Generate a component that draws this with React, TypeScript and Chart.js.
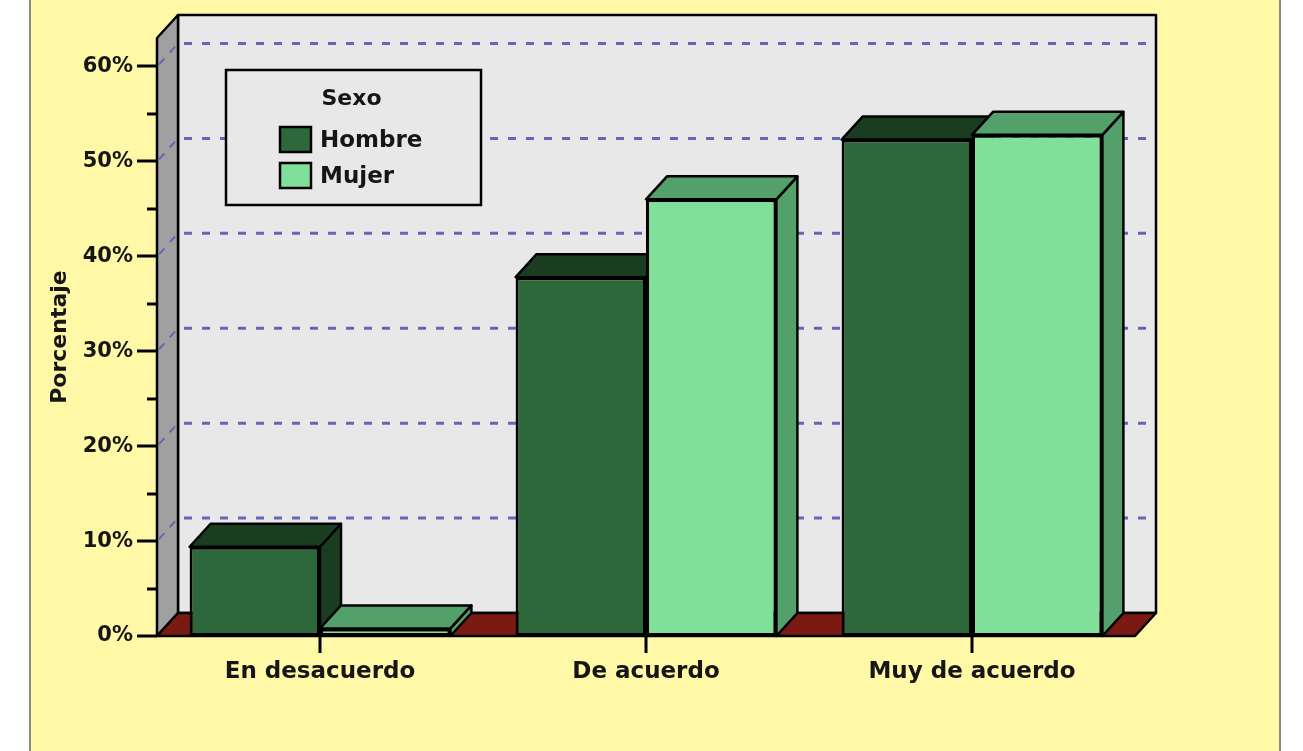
import React, { useEffect, useRef } from 'react';
import { Chart, registerables } from 'chart.js';

Chart.register(...registerables);

// ---- data ----
const CATEGORIES = ['En desacuerdo', 'De acuerdo', 'Muy de acuerdo'];
const HOMBRE = [9.4, 37.8, 52.3];
const MUJER = [0.8, 46.0, 52.8];
const SERIES_LABELS = ['Hombre', 'Mujer'];
const Y_MAJOR_TICKS = [0, 10, 20, 30, 40, 50, 60];
const Y_MINOR_TICKS = [5, 15, 25, 35, 45, 55];
const LEGEND_TITLE = 'Sexo';
const Y_TITLE = 'Porcentaje';

// ---- styles ----
const FONT = "'DejaVu Sans', 'Liberation Sans', Arial, sans-serif";
const TEXT = '#161616';
const FRONT_COLORS = ['#2D683B', '#80DF98'];
const SIDE_COLORS = ['#1A3D22', '#53A06A'];
const WALL = '#E8E8E8';
const SIDE_WALL = '#A0A0A0';
const FLOOR = '#7A1A12';
const GRID = '#6666B4';
const DX = 21;
const DY = 23;

function poly(ctx: CanvasRenderingContext2D, pts: number[][], fill: string) {
  ctx.beginPath();
  ctx.moveTo(pts[0][0], pts[0][1]);
  for (let i = 1; i < pts.length; i++) ctx.lineTo(pts[i][0], pts[i][1]);
  ctx.closePath();
  ctx.fillStyle = fill;
  ctx.fill();
  ctx.stroke();
}

const threeD = {
  id: 'threeD',
  beforeDatasetsDraw(chart: any) {
    const { ctx, chartArea, scales } = chart;
    const { left, right, top, bottom } = chartArea;
    const y = scales.y;
    ctx.save();
    ctx.lineJoin = 'round';
    ctx.strokeStyle = '#000';
    ctx.lineWidth = 2.5;
    // back wall
    ctx.beginPath();
    ctx.rect(left + DX, top - DY, right - left, bottom - top);
    ctx.fillStyle = WALL;
    ctx.fill();
    ctx.stroke();
    // grid lines on back wall
    ctx.setLineDash([8, 10]);
    ctx.strokeStyle = GRID;
    ctx.lineWidth = 3;
    Y_MAJOR_TICKS.forEach((v) => {
      if (v === 0) return;
      const py = y.getPixelForValue(v);
      ctx.beginPath();
      ctx.moveTo(left + DX + 6, py - DY);
      ctx.lineTo(right + DX - 6, py - DY);
      ctx.stroke();
    });
    ctx.setLineDash([]);
    // left wall
    ctx.strokeStyle = '#000';
    ctx.lineWidth = 2.5;
    poly(ctx, [[left, top], [left + DX, top - DY], [left + DX, bottom - DY], [left, bottom]], SIDE_WALL);
    // dashes on the left wall
    ctx.strokeStyle = GRID;
    ctx.lineWidth = 2;
    ctx.setLineDash([8, 8]);
    Y_MAJOR_TICKS.forEach((v) => {
      if (v === 0) return;
      const py = y.getPixelForValue(v);
      ctx.beginPath();
      ctx.moveTo(left + 2, py - 2);
      ctx.lineTo(left + DX, py - DY);
      ctx.stroke();
    });
    ctx.setLineDash([]);
    // floor
    ctx.strokeStyle = '#000';
    ctx.lineWidth = 2.5;
    poly(ctx, [[left, bottom], [right, bottom], [right + DX, bottom - DY], [left + DX, bottom - DY]], FLOOR);
    // 3D bar sides & tops
    chart.data.datasets.forEach((_ds: any, i: number) => {
      const meta = chart.getDatasetMeta(i);
      meta.data.forEach((bar: any) => {
        const { x, y: by, base, width } = bar.getProps(['x', 'y', 'base', 'width'], true);
        const l = x - width / 2;
        const r = x + width / 2;
        poly(ctx, [[r, by], [r + DX, by - DY], [r + DX, base - DY], [r, base]], SIDE_COLORS[i]);
        poly(ctx, [[l, by], [r, by], [r + DX, by - DY], [l + DX, by - DY]], SIDE_COLORS[i]);
      });
    });
    ctx.restore();
  },
  afterDatasetsDraw(chart: any) {
    const { ctx, chartArea, scales } = chart;
    const { left, top, bottom } = chartArea;
    ctx.save();
    ctx.strokeStyle = '#000';
    ctx.lineWidth = 3;
    // y ticks
    Y_MAJOR_TICKS.forEach((v) => {
      const py = Math.round(scales.y.getPixelForValue(v));
      ctx.beginPath();
      ctx.moveTo(left - 20, py);
      ctx.lineTo(left, py);
      ctx.stroke();
    });
    Y_MINOR_TICKS.forEach((v) => {
      const py = Math.round(scales.y.getPixelForValue(v));
      ctx.beginPath();
      ctx.moveTo(left - 10, py);
      ctx.lineTo(left, py);
      ctx.stroke();
    });
    // x ticks
    CATEGORIES.forEach((_c, i) => {
      const px = Math.round(scales.x.getPixelForValue(i));
      ctx.beginPath();
      ctx.moveTo(px, bottom);
      ctx.lineTo(px, bottom + 17);
      ctx.stroke();
    });
    // legend
    const bx = left + 69;
    const by = top + 32;
    const bw = 255;
    const bh = 135;
    ctx.fillStyle = WALL;
    ctx.lineWidth = 2.5;
    ctx.fillRect(bx, by, bw, bh);
    ctx.strokeRect(bx, by, bw, bh);
    ctx.fillStyle = TEXT;
    ctx.font = `bold 22px ${FONT}`;
    ctx.textAlign = 'center';
    ctx.textBaseline = 'middle';
    ctx.fillText(LEGEND_TITLE, bx + bw / 2 - 2, by + 29);
    ctx.textAlign = 'left';
    chart.data.datasets.forEach((ds: any, i: number) => {
      const sy = by + 57 + i * 36;
      ctx.fillStyle = ds.backgroundColor;
      ctx.lineWidth = 2.5;
      ctx.fillRect(bx + 54, sy, 31, 25);
      ctx.strokeRect(bx + 54, sy, 31, 25);
      ctx.fillStyle = TEXT;
      ctx.font = `bold 23px ${FONT}`;
      ctx.fillText(ds.label, bx + 94, sy + 14);
    });
    ctx.restore();
  },
};

export default function App() {
  const ref = useRef<HTMLCanvasElement | null>(null);
  useEffect(() => {
    if (!ref.current) return;
    const chart = new Chart(ref.current, {
      type: 'bar',
      data: {
        labels: CATEGORIES,
        datasets: [
          {
            label: SERIES_LABELS[0],
            data: HOMBRE,
            backgroundColor: FRONT_COLORS[0],
            borderColor: '#000',
            borderWidth: 3,
            borderSkipped: false,
          },
          {
            label: SERIES_LABELS[1],
            data: MUJER,
            backgroundColor: FRONT_COLORS[1],
            borderColor: '#000',
            borderWidth: 3,
            borderSkipped: false,
          },
        ],
      },
      options: {
        responsive: false,
        animation: false,
        devicePixelRatio: 1,
        layout: { padding: { left: 43, right: 168, top: 38, bottom: 0 } },
        plugins: {
          legend: { display: false },
          tooltip: { enabled: false },
        },
        datasets: { bar: { categoryPercentage: 0.8, barPercentage: 1.0 } },
        scales: {
          x: {
            grid: { display: false, drawTicks: true, tickLength: 17 },
            border: { display: false },
            ticks: {
              color: TEXT,
              padding: 5,
              maxRotation: 0,
              font: { family: FONT, size: 23, weight: 'bold' },
            },
            afterFit: (s: any) => {
              s.height = 115;
            },
          },
          y: {
            min: 0,
            max: 63,
            afterBuildTicks: (s: any) => {
              s.ticks = Y_MAJOR_TICKS.map((v) => ({ value: v }));
            },
            grid: { display: false, drawTicks: true, tickLength: 20 },
            border: { display: false },
            ticks: {
              color: TEXT,
              padding: 4,
              font: { family: FONT, size: 21, weight: 'bold' },
              callback: (v: any) => `${v}%`,
            },
            title: {
              display: true,
              text: Y_TITLE,
              color: TEXT,
              padding: { top: 4, bottom: 4 },
              font: { family: FONT, size: 22, weight: 'bold' },
            },
            afterFit: (s: any) => {
              s.width = 114;
            },
          },
        },
      } as any,
      plugins: [threeD],
    });
    return () => chart.destroy();
  }, []);

  return (
    <div
      style={{
        position: 'fixed',
        left: 0,
        top: 0,
        width: 1303,
        height: 751,
        background: '#ffffff',
        overflow: 'hidden',
      }}
    >
      <div
        style={{
          position: 'absolute',
          left: 29,
          top: -4,
          width: 1252,
          height: 770,
          background: '#FFF8A6',
          borderLeft: '2px solid #8c8c84',
          borderRight: '2px solid #8c8c84',
          boxSizing: 'border-box',
        }}
      />
      <canvas
        ref={ref}
        width={1303}
        height={751}
        style={{ position: 'absolute', left: 0, top: 0, width: 1303, height: 751 }}
      />
    </div>
  );
}
